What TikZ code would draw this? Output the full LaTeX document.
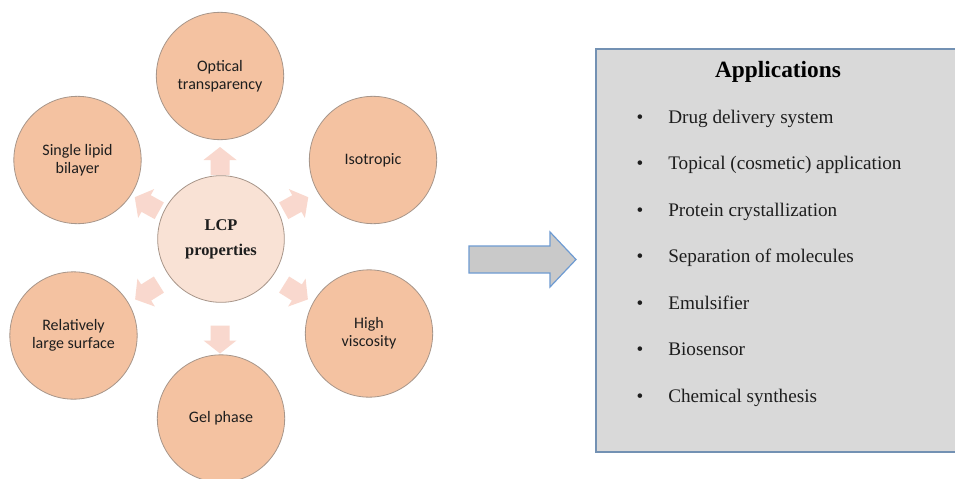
\documentclass[tikz,border=0pt]{standalone}
\usepackage{fontspec}
\setmainfont{Liberation Serif}
\newfontfamily\calibri{Carlito}
\definecolor{peach}{HTML}{F4C2A1}
\definecolor{peachedge}{HTML}{A8968A}
\definecolor{lcpfill}{HTML}{F9E2D5}
\definecolor{pinkarrow}{HTML}{F9D8CE}
\definecolor{boxfill}{HTML}{D9D9D9}
\definecolor{boxedge}{HTML}{7391B3}
\definecolor{bigfill}{HTML}{C9C9C9}
\definecolor{bigedge}{HTML}{6E9BD2}
\definecolor{txt}{HTML}{1E1E1E}
\tikzset{
  outer/.style={circle, draw=peachedge, line width=0.6pt, fill=peach, minimum size=95.5pt, inner sep=0pt, align=center, text=txt, font=\calibri\fontsize{12}{13.7}\selectfont},
  centre/.style={circle, draw=peachedge, line width=0.6pt, fill=lcpfill, minimum size=95pt, inner sep=0pt, align=center, text=txt, font=\bfseries\fontsize{12.3}{18.5}\selectfont},
  item/.style={anchor=base west, inner sep=0pt, text=txt, font=\fontsize{14.4}{16}\selectfont},
  bul/.style={anchor=base, inner sep=0pt, text=txt, font=\fontsize{14.4}{16}\selectfont},
  smallarr/.style={fill=pinkarrow, draw=none}
}
\begin{document}
\begin{tikzpicture}[x=0.75pt,y=-0.75pt]
\useasboundingbox (0,0) rectangle (955,478);
\clip (0,0) rectangle (955,478);
\fill[white] (0,0) rectangle (955,478);

% application box
\draw[fill=boxfill, draw=boxedge, line width=1.2pt] (596,49) rectangle (962,452);
\node[anchor=base, inner sep=0pt, text=black, font=\bfseries\fontsize{17.5}{20}\selectfont] (title) at (778,77) {Applications};
\foreach \y/\t [count=\i] in {123/Drug delivery system, 169/Topical (cosmetic) application, 216/Protein crystallization, 262/Separation of molecules, 309/Emulsifier, 355/Biosensor, 402/Chemical synthesis}{
  \node[bul] (b\i) at (640,\y) {•};
  \node[item] (it\i) at (668,\y) {\t};
}

% big arrow
\coordinate (bigtail) at (469,259.5);
\draw[fill=bigfill, draw=bigedge, line width=0.9pt, line join=miter]
  (469,246) -- (550,246) -- (550,232) -- (576,259.5) -- (550,287) -- (550,273) -- (469,273) -- cycle;

% small arrows (centre, angle)
\foreach \cx/\cy/\a [count=\i] in {220/161/90, 220/339.5/-90, 296/204/29, 296/292/-32, 147/204/151, 147/292/-148}{
  \coordinate (sa\i) at (\cx,\cy);
  \begin{scope}[shift={(sa\i)}, x=0.75pt, y=0.75pt, rotate=\a]
    \fill[smallarr] (-14,-9.5) -- (1,-9.5) -- (1,-16.5) -- (14,0) -- (1,16.5) -- (1,9.5) -- (-14,9.5) -- cycle;
  \end{scope}
}

% circles
\node[centre] (lcp) at (221,239) {LCP\\properties};
\node[outer] (opt) at (220,76) {Optical\\transparency};
\node[outer] (iso) at (373,160) {Isotropic};
\node[outer] (sing) at (77.5,160) {Single lipid\\bilayer};
\node[outer] (rel) at (73.5,335.5) {Relatively\\large surface};
\node[outer] (high) at (369,333.5) {High\\viscosity};
\node[outer] (gel) at (221,418.5) {Gel phase};
\end{tikzpicture}
\end{document}
